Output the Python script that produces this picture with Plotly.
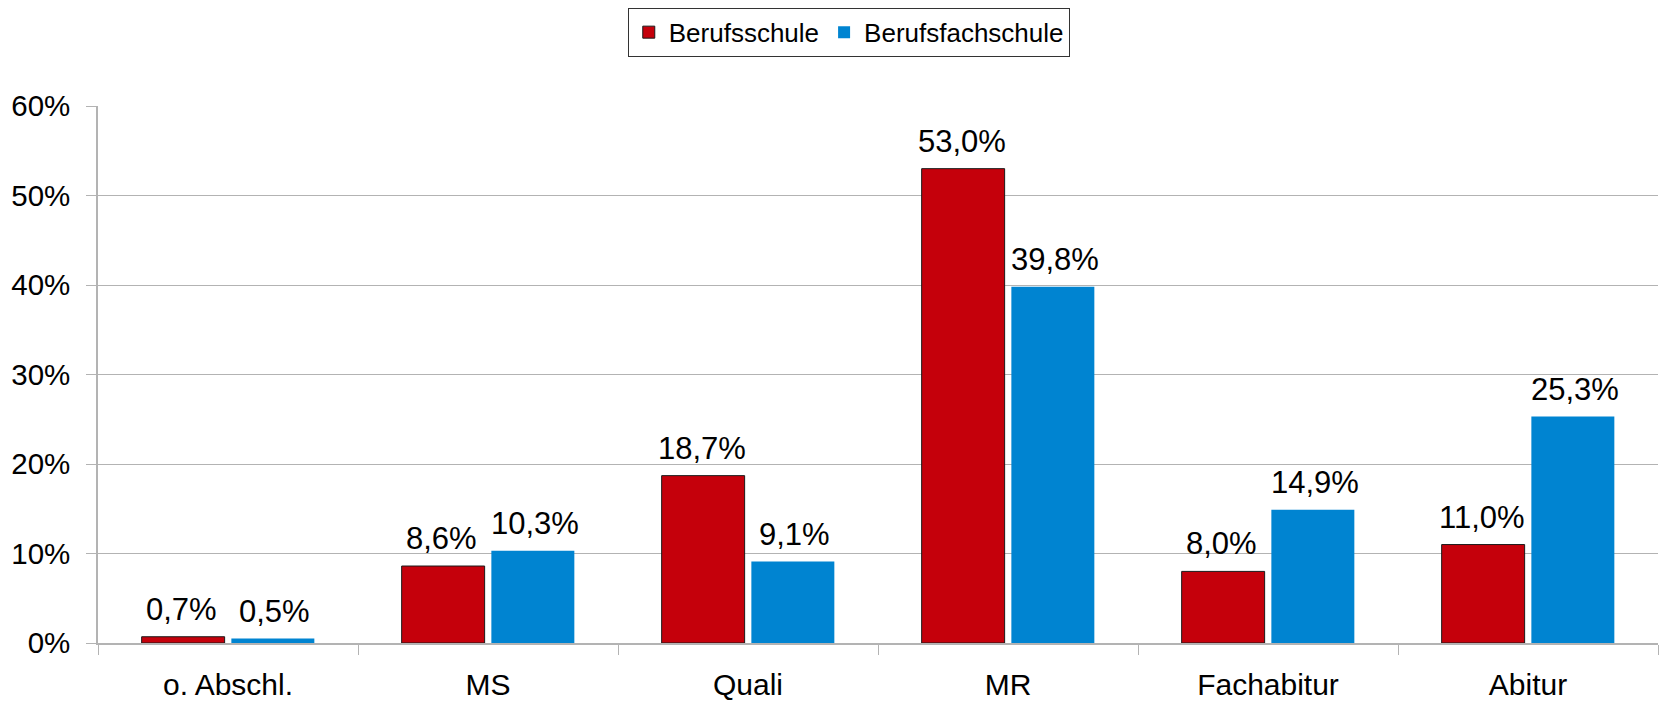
import plotly.graph_objects as go

categories = ["o. Abschl.", "MS", "Quali", "MR", "Fachabitur", "Abitur"]
berufsschule = [0.7, 8.6, 18.7, 53.0, 8.0, 11.0]
berufsfachschule = [0.5, 10.3, 9.1, 39.8, 14.9, 25.3]

font_main = "Liberation Sans, Arial, sans-serif"

fig = go.Figure()
fig.add_trace(go.Bar(
    x=categories, y=berufsschule, name="Berufsschule",
    marker=dict(color="#C5000B", line=dict(color="#1a1a1a", width=1)),
))
fig.add_trace(go.Bar(
    x=categories, y=berufsfachschule, name="Berufsfachschule",
    marker=dict(color="#0084D1", line=dict(width=0)),
))

# value labels above bars
for series, shift in [(berufsschule, -46.5), (berufsfachschule, 46.5)]:
    for cat, val in zip(categories, series):
        fig.add_annotation(
            x=cat, y=val, text=f"{val:.1f}%".replace(".", ","),
            showarrow=False, xshift=shift, yshift=8, yanchor="bottom",
            font=dict(size=31, color="black"),
        )

fig.update_layout(
    width=1661, height=704,
    margin=dict(l=98, r=3, t=106, b=61),
    paper_bgcolor="white", plot_bgcolor="white",
    font=dict(family=font_main, color="black"),
    separators=",.",
    barmode="group", bargap=0.31, bargroupgap=0.075,
    showlegend=True,
    legend=dict(
        orientation="h", xref="container", yref="container",
        x=0.511, xanchor="center", y=0.989, yanchor="top",
        bordercolor="#333333", borderwidth=1,
        font=dict(size=26), itemwidth=30, tracegroupgap=0,
    ),
    xaxis=dict(
        automargin=False,
        tickson="boundaries", ticks="outside", ticklen=10, tickcolor="#b3b3b3",
        showline=True, linecolor="#b3b3b3", linewidth=1.5,
        showgrid=False, tickfont=dict(size=30), ticklabelstandoff=14,
    ),
    yaxis=dict(
        automargin=False,
        range=[0, 60], dtick=10, ticksuffix="%",
        ticks="outside", ticklen=10, tickcolor="#b3b3b3",
        showline=True, linecolor="#b3b3b3", linewidth=1.5,
        showgrid=True, gridcolor="#b3b3b3", gridwidth=1,
        zeroline=False, tickfont=dict(size=29.5), ticklabelstandoff=10,
    ),
)

# page margin off so the figure fills the window exactly
fig.write_html(
    "out.html",
    config={"displayModeBar": False},
    post_script="document.body.style.margin='0';",
)
